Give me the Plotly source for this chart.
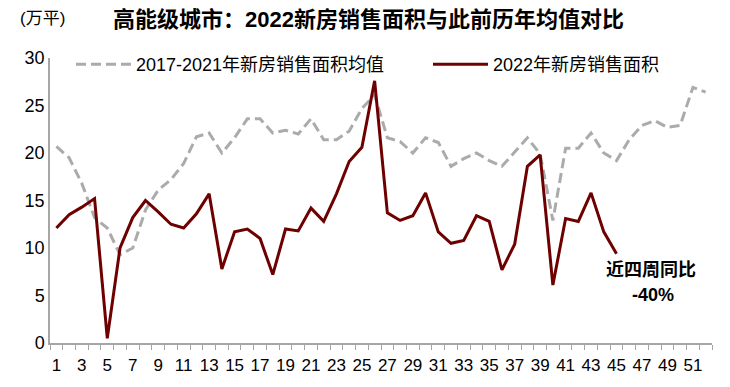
import plotly.graph_objects as go

weeks = list(range(1, 53))
avg_2017_2021 = [20.7, 19.5, 16.8, 13.2, 12.1, 9.3, 10.0, 14.0, 16.1, 17.2,
                 18.9, 21.7, 22.1, 20.0, 21.6, 23.6, 23.6, 22.1, 22.4, 22.0,
                 23.6, 21.4, 21.4, 22.3, 24.7, 26.1, 21.6, 21.2, 20.0, 21.6,
                 21.1, 18.6, 19.4, 20.0, 19.2, 18.6, 20.1, 21.6, 19.9, 12.9,
                 20.5, 20.5, 22.1, 20.0, 19.2, 21.4, 22.9, 23.4, 22.7, 22.9,
                 26.9, 26.4]
sales_2022 = [12.1, 13.5, 14.3, 15.2, 0.5, 10.0, 13.2, 15.0, 13.8, 12.5,
              12.1, 13.6, 15.7, 7.8, 11.7, 12.0, 11.0, 7.2, 12.0, 11.8,
              14.2, 12.8, 15.7, 19.1, 20.6, 27.6, 13.7, 12.9, 13.4, 15.8,
              11.7, 10.5, 10.8, 13.4, 12.8, 7.7, 10.4, 18.6, 19.8, 6.1,
              13.1, 12.8, 15.8, 11.7, 9.4]
xtick_vals = list(range(1, 53, 2))
ytick_vals = [0, 5, 10, 15, 20, 25, 30]

font_family = "Liberation Sans, Arial, Noto Sans CJK SC, sans-serif"

fig = go.Figure()
fig.add_trace(go.Scatter(
    x=weeks, y=avg_2017_2021, mode="lines", name="2017-2021年新房销售面积均值",
    line=dict(color="#ABABAB", width=3, dash="10px,5px"), legend="legend"))
fig.add_trace(go.Scatter(
    x=weeks[:len(sales_2022)], y=sales_2022, mode="lines", name="2022年新房销售面积",
    line=dict(color="#6E0000", width=3), legend="legend2"))

legend_common = dict(orientation="h", yanchor="middle", y=0.977,
                     bgcolor="rgba(0,0,0,0)", itemwidth=55, font=dict(size=18))

fig.update_layout(
    width=722, height=379,
    margin=dict(l=42, r=18, t=50, b=44),
    paper_bgcolor="white", plot_bgcolor="white",
    font=dict(family=font_family, size=18, color="black"),
    showlegend=True,
    legend=dict(x=0.0317, xanchor="left", **legend_common),
    legend2=dict(x=0.571, xanchor="left", **legend_common),
    xaxis=dict(range=[0.5, 52.5], tickmode="array", tickvals=xtick_vals,
               ticktext=[str(v) for v in xtick_vals], ticks="", showgrid=False,
               zeroline=False, showline=True, linecolor="#A6A6A6", linewidth=1.5,
               tickfont=dict(size=17), automargin=False, ticklabelstandoff=6,
               minor=dict(tickmode="linear", tick0=0.5, dtick=1, ticks="outside",
                          ticklen=5, tickcolor="#A6A6A6", showgrid=False)),
    yaxis=dict(range=[0, 30], tickvals=ytick_vals, showgrid=False, zeroline=False,
               showline=True, linecolor="#A6A6A6", linewidth=1.5, ticks="",
               tickfont=dict(size=18), automargin=False),
    annotations=[
        dict(text="<b>高能级城市：2022新房销售面积与此前历年均值对比</b>",
             xref="paper", yref="paper", x=0.481, y=1.0, yshift=39, showarrow=False,
             xanchor="center", yanchor="middle", font=dict(size=22)),
        dict(text="(万平)", xref="paper", yref="paper", x=-0.012, y=1.0, yshift=40,
             showarrow=False, xanchor="center", yanchor="middle", font=dict(size=17)),
        dict(text="<b>近四周同比</b>", xref="x", yref="y", x=47.7, y=7.68,
             showarrow=False, xanchor="center", yanchor="middle", font=dict(size=18)),
        dict(text="<b>-40%</b>", xref="x", yref="y", x=47.86, y=5.05,
             showarrow=False, xanchor="center", yanchor="middle", font=dict(size=18)),
    ],
)

fig.write_html("out.html")
